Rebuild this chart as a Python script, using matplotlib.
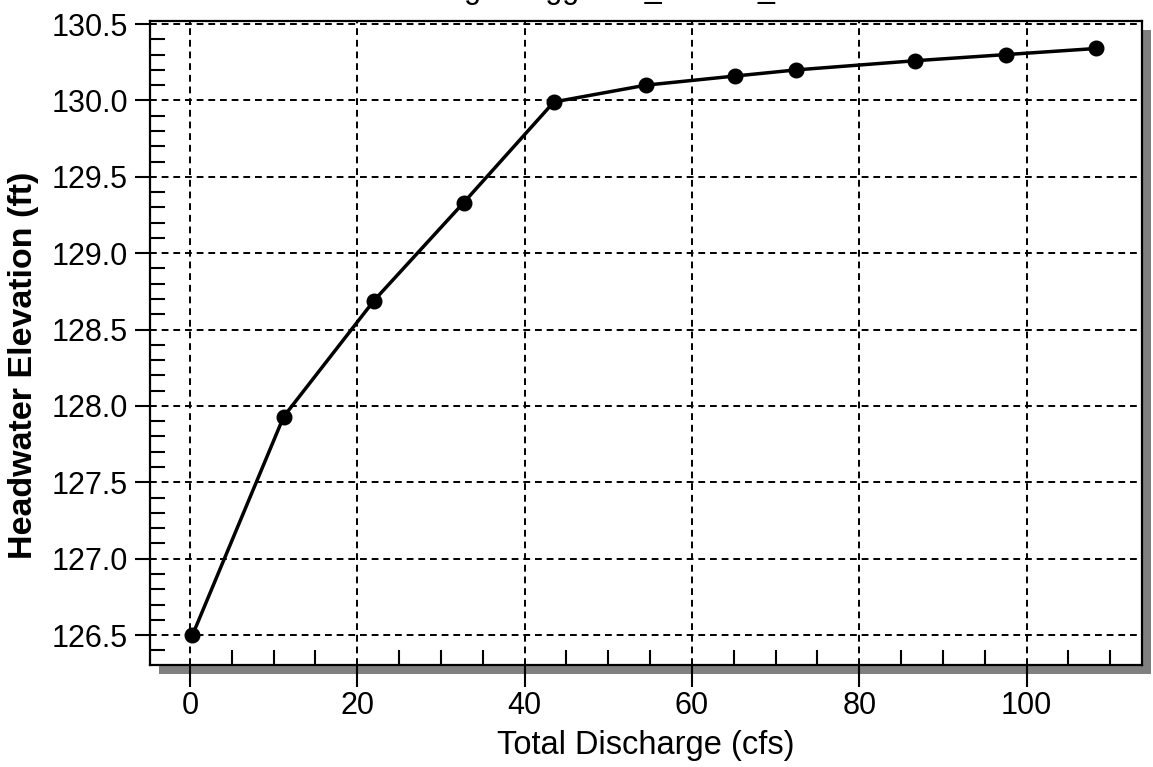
import matplotlib
matplotlib.use('Agg')
import matplotlib.pyplot as plt
from matplotlib.patches import Rectangle
from matplotlib.ticker import MultipleLocator, FormatStrFormatter

plt.rcParams['font.family'] = ['Liberation Sans', 'DejaVu Sans']

# rating curve values
discharge = [0.3, 11.2, 22.0, 32.7, 43.5, 54.5, 65.2, 72.5, 86.7, 97.5, 108.3]
headwater = [126.50, 127.93, 128.69, 129.33, 129.99, 130.10, 130.16, 130.20, 130.26, 130.30, 130.34]

title = 'Crossing - Boggs Hill_Culvert_1'
x_label = 'Total Discharge (cfs)'
y_label = 'Headwater Elevation (ft)'

W, H = 1153, 767
fig = plt.figure(figsize=(W / 100, H / 100), dpi=100)
ax_pos = [150 / W, (H - 665) / H, (1142 - 150) / W, (665 - 21) / H]
ax = fig.add_axes(ax_pos)

# drop shadow behind the plot frame
sh = 9
fig.patches.append(Rectangle((ax_pos[0] + sh / W, ax_pos[1] - sh / H), ax_pos[2], ax_pos[3],
                             transform=fig.transFigure, facecolor='#808080', edgecolor='none', zorder=0))
ax.set_zorder(1)

ax.plot(discharge, headwater, color='black', lw=2.5, marker='o', ms=10.5, zorder=3, clip_on=False)

ax.set_xlim(-4.78, 113.8)
ax.set_ylim(126.304, 130.52)
ax.xaxis.set_major_locator(MultipleLocator(20))
ax.xaxis.set_minor_locator(MultipleLocator(5))
ax.yaxis.set_major_locator(MultipleLocator(0.5))
ax.yaxis.set_minor_locator(MultipleLocator(0.1))
ax.yaxis.set_major_formatter(FormatStrFormatter('%.1f'))

ax.tick_params(which='major', direction='out', width=1.5, colors='black', labelsize=22)
ax.tick_params(axis='x', which='major', length=16, pad=3)
ax.tick_params(axis='y', which='major', length=11, pad=5)
ax.tick_params(which='minor', direction='in', length=11, width=1.5)

ax.grid(True, which='major', color='black', linestyle=(0, (3.5, 2.5)), linewidth=1.4)
for s in ax.spines.values():
    s.set_linewidth(1.6)

ax.set_xlabel(x_label, fontsize=23.5, labelpad=6)
ax.set_ylabel(y_label, fontsize=24.5, fontweight='bold')
ax.yaxis.set_label_coords(-0.112, 0.466)

fig.text(0.5, 1 + 2 / H, title, ha='center', va='baseline', fontsize=22)

fig.savefig('out.png', dpi=100)
